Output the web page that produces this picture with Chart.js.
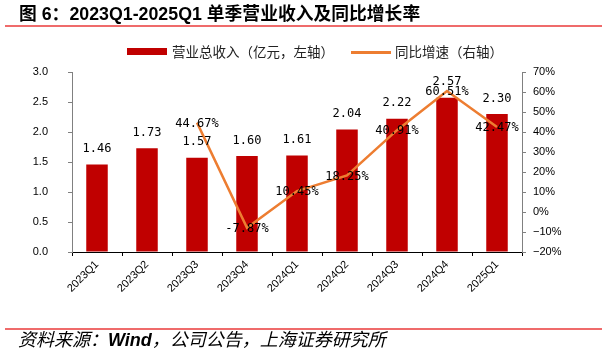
<!DOCTYPE html>
<html><head><meta charset="utf-8">
<script src="https://cdn.jsdelivr.net/npm/chart.js@4/dist/chart.umd.min.js"></script>
<style>
html,body{margin:0;padding:0;background:#fff;width:607px;height:356px;overflow:hidden}
#wrap{position:relative;width:607px;height:356px}
#cw{position:absolute;left:0;top:0;width:607px;height:356px}
.t{position:absolute;white-space:nowrap;color:#000}
#title{left:19px;top:4px;font:bold 17.8px/20px "Liberation Sans","Noto Sans CJK SC",sans-serif}
#line1{position:absolute;left:5px;top:24.5px;width:597px;height:2px;background:#ef6b6b}
#line2{position:absolute;left:5px;top:328px;width:597px;height:2px;background:#ef6b6b}
#src{left:18px;top:331px;font:italic 18px/19px "Liberation Sans","Noto Sans CJK SC",sans-serif}
#src b{font-weight:bold}
.lg{font:13.5px/16px "Noto Sans CJK SC",sans-serif;top:43px;color:#222}
#box1{position:absolute;left:127px;top:48px;width:40px;height:7px;background:#C00000}
#box2{position:absolute;left:351px;top:50.5px;width:40px;height:3px;background:#ED7D31}
</style></head><body>
<div id="wrap">
<div id="cw"><canvas id="c"></canvas></div>
<div class="t" id="title">图 6：2023Q1-2025Q1 单季营业收入及同比增长率</div>
<div id="line1"></div>
<div id="box1"></div><div class="t lg" id="lg1" style="left:172px"></div>
<div id="box2"></div><div class="t lg" id="lg2" style="left:395px"></div>
<div id="line2"></div>
<div class="t" id="src">资料来源：<b>Wind</b>，公司公告，上海证券研究所</div>
</div>
<script>
const categories = ['2023Q1','2023Q2','2023Q3','2023Q4','2024Q1','2024Q2','2024Q3','2024Q4','2025Q1'];
const revenue = [1.46, 1.73, 1.57, 1.60, 1.61, 2.04, 2.22, 2.57, 2.30];
const growth = [null, null, 44.67, -7.87, 10.45, 18.25, 40.91, 60.51, 42.47];
const seriesNames = ['营业总收入（亿元，左轴）', '同比增速（右轴）'];
const leftTicks = [0, 0.5, 1.0, 1.5, 2.0, 2.5, 3.0];
const rightTicks = [-20, -10, 0, 10, 20, 30, 40, 50, 60, 70];

document.getElementById('lg1').textContent = seriesNames[0];
document.getElementById('lg2').textContent = seriesNames[1];

const valueLabels = {
  id: 'valueLabels',
  afterDatasetsDraw(chart) {
    const ctx = chart.ctx;
    ctx.save();
    ctx.font = '12px "DejaVu Sans Mono", monospace';
    ctx.fillStyle = '#000';
    ctx.textAlign = 'center';
    ctx.textBaseline = 'alphabetic';
    chart.getDatasetMeta(0).data.forEach((el, i) => {
      ctx.fillText(revenue[i].toFixed(2), el.x, el.y - 12.5);
    });
    ctx.textBaseline = 'middle';
    chart.getDatasetMeta(1).data.forEach((el, i) => {
      if (growth[i] === null) return;
      ctx.fillText(growth[i].toFixed(2) + '%', el.x, el.y + 1);
    });
    ctx.restore();
  }
};

const tickFont = { family: '"Liberation Sans", Arial, sans-serif', size: 11 };

new Chart(document.getElementById('c'), {
  type: 'bar',
  data: {
    labels: categories,
    datasets: [
      { type: 'bar', label: seriesNames[0], data: revenue, backgroundColor: '#C00000',
        yAxisID: 'y', order: 2, categoryPercentage: 1, barPercentage: 0.43 },
      { type: 'line', label: seriesNames[1], data: growth, borderColor: '#ED7D31',
        backgroundColor: '#ED7D31', borderWidth: 2.5, pointRadius: 0, tension: 0,
        yAxisID: 'y1', order: 1 }
    ]
  },
  options: {
    responsive: true, maintainAspectRatio: false, animation: false,
    layout: { padding: { top: 72, left: 0, right: 0, bottom: 0 } },
    plugins: { legend: { display: false }, tooltip: { enabled: false } },
    scales: {
      x: {
        offset: true,
        grid: { display: true, drawOnChartArea: false, offset: true, tickLength: 4, color: '#000' },
        border: { color: '#000', width: 1 },
        ticks: { minRotation: 45, maxRotation: 45, autoSkip: false, font: tickFont, color: '#000', padding: 2 },
        afterFit(s) { s.height = 104; }
      },
      y: {
        position: 'left', min: 0, max: 3,
        afterBuildTicks(s) { s.ticks = leftTicks.map(v => ({ value: v })); },
        grid: { display: true, drawOnChartArea: false, tickLength: 4, color: '#808080' },
        border: { color: '#808080', width: 1 },
        ticks: { font: tickFont, color: '#000', padding: 20, callback: v => v.toFixed(1) },
        afterFit(s) { s.width = 72; }
      },
      y1: {
        position: 'right', min: -20, max: 70,
        afterBuildTicks(s) { s.ticks = rightTicks.map(v => ({ value: v })); },
        grid: { display: true, drawOnChartArea: false, tickLength: 4, color: '#808080' },
        border: { color: '#808080', width: 1 },
        ticks: { font: tickFont, color: '#000', padding: 7, callback: v => (v < 0 ? '\u2212' + Math.abs(v) : v) + '%' },
        afterFit(s) { s.width = 85; }
      }
    }
  },
  plugins: [valueLabels]
});
</script>
</body></html>
